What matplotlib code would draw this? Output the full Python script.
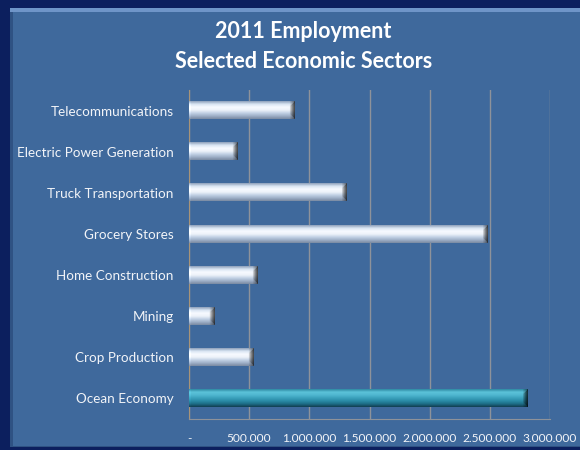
import numpy as np
import matplotlib.pyplot as plt
from matplotlib.patches import Rectangle
from matplotlib.colors import to_rgb

# 2011 employment by sector
sectors = ['Ocean Economy', 'Crop Production', 'Mining', 'Home Construction',
           'Grocery Stores', 'Truck Transportation', 'Electric Power Generation',
           'Telecommunications']
employment = [2810000, 535000, 210000, 570000, 2480000, 1310000, 400000, 880000]
tick_vals = [0, 500000, 1000000, 1500000, 2000000, 2500000, 3000000]
tick_text = ['-', '500.000', '1.000.000', '1.500.000', '2.000.000', '2.500.000', '3.000.000']

navy = '#0c1f5e'
panel = '#3f699c'
txt = '#f2f4f8'

plt.rcParams['font.family'] = ['Lato', 'DejaVu Sans']

fig = plt.figure(figsize=(5.8, 4.5), dpi=100)
fig.patch.set_facecolor(navy)

# inner panel with a small bevel
fig.patches.append(Rectangle((10/580, 3/450), 570/580, 439/450, transform=fig.transFigure,
                             facecolor='#2f5283', edgecolor='none', zorder=-3))
fig.patches.append(Rectangle((13/580, 4/450), 567/580, 436/450, transform=fig.transFigure,
                             facecolor=panel, edgecolor='none', zorder=-2))
fig.patches.append(Rectangle((10/580, 438/450), 570/580, 4/450, transform=fig.transFigure,
                             facecolor='#6f95c8', edgecolor='none', zorder=-1))

ax = fig.add_axes([189/580, 31/450, 361/580, 329/450])
ax.set_facecolor('none')

y = np.arange(len(sectors))
bars = ax.barh(y, employment, height=0.42, color='none', edgecolor='none')

ax.set_xlim(0, 3000000)
ax.set_ylim(-0.5, len(sectors) - 0.5)


def profile(stops, n=40):
    pos = np.linspace(0, 1, len(stops))
    cols = np.array([to_rgb(c) for c in stops])
    t = np.linspace(0, 1, n)
    return np.stack([np.interp(t, pos, cols[:, k]) for k in range(3)], axis=1)


light = profile(['#8fa2bc', '#d9e5f3', '#f7faff', '#eef3fa', '#c3d2e6', '#9fb0c8', '#7b8ba3'])
teal = profile(['#2f8aa3', '#5cc3da', '#4fb6cf', '#3aa0bb', '#2a8aa6', '#1d6d86', '#123f52'])
px = 361 / 3000000.0  # pixels per unit on the x axis

for i, p in enumerate(bars.patches):
    x0, y0, w, h = p.get_x(), p.get_y(), p.get_width(), p.get_height()
    prof = teal if i == 0 else light
    ncol = max(int(w * px), 4)
    img = np.repeat(prof[:, None, :], ncol, axis=1)
    rows = prof.shape[0]
    bev = 6
    for c in range(ncol - bev, ncol):
        k = (c - (ncol - bev)) / bev
        r0 = int(rows * 0.5 * (1 - k) * 0.6)
        dark = 0.35 if i == 0 else 0.45
        img[:, c, :] = img[:, c, :] * (1 - k * 0.5)
        img[r0:rows - r0, c, :] *= dark + (1 - dark) * (1 - k)
    img[:, :2, :] = np.minimum(img[:, :2, :] * 1.05, 1)
    ax.imshow(img, extent=(x0, x0 + w, y0, y0 + h), origin='upper',
              aspect='auto', interpolation='bilinear', zorder=3)

ax.set_xticks(tick_vals)
ax.set_xticklabels(tick_text)
ax.set_yticks(y)
ax.set_yticklabels(sectors)
ax.tick_params(axis='both', colors=txt, length=0)
ax.tick_params(axis='y', pad=11, labelsize=9.7)
ax.tick_params(axis='x', pad=10, labelsize=8.6)

ax.grid(axis='x', color='#8e929a', linewidth=1)
ax.set_axisbelow(True)
for s in ['top', 'right']:
    ax.spines[s].set_visible(False)
ax.spines['left'].set_color('#a89478')
ax.spines['bottom'].set_color('#8e929a')

fig.text(0.523, 0.931, '2011 Employment', ha='center', va='center',
         color='white', fontsize=15.5, fontweight='bold')
fig.text(0.523, 0.864, 'Selected Economic Sectors', ha='center', va='center',
         color='white', fontsize=15.5, fontweight='bold')

fig.savefig('out.png', dpi=100, facecolor=fig.get_facecolor())
